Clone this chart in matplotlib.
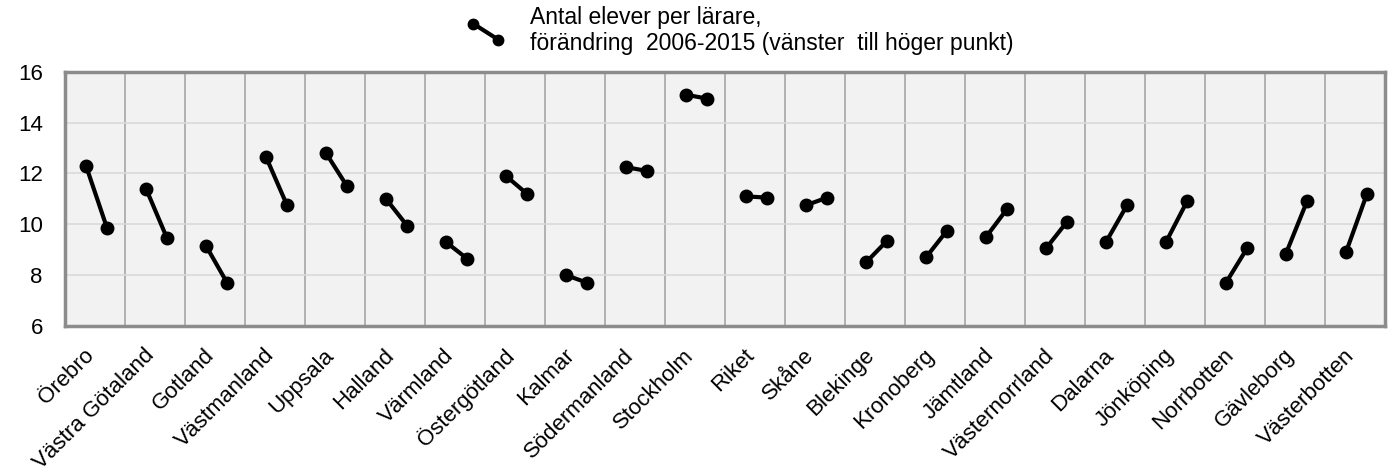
import numpy as np
import matplotlib.pyplot as plt
from matplotlib.lines import Line2D
from matplotlib.legend_handler import HandlerLine2D
from matplotlib.transforms import ScaledTranslation

plt.rcParams['font.family'] = ['Liberation Sans', 'DejaVu Sans']

# Antal elever per lärare, 2006 (vänster) och 2015 (höger)
regions = ["Örebro", "Västra Götaland", "Gotland", "Västmanland", "Uppsala",
           "Halland", "Värmland", "Östergötland", "Kalmar", "Södermanland",
           "Stockholm", "Riket", "Skåne", "Blekinge", "Kronoberg", "Jämtland",
           "Västernorrland", "Dalarna", "Jönköping", "Norrbotten", "Gävleborg",
           "Västerbotten"]
v2006 = [12.3, 11.4, 9.15, 12.65, 12.8, 11.0, 9.3, 11.9, 8.0, 12.25, 15.1,
         11.1, 10.75, 8.5, 8.7, 9.5, 9.05, 9.3, 9.3, 7.7, 8.85, 8.9]
v2015 = [9.85, 9.45, 7.7, 10.75, 11.5, 9.95, 8.65, 11.2, 7.7, 12.1, 14.95,
         11.05, 11.05, 9.35, 9.75, 10.6, 10.1, 10.75, 10.9, 9.05, 10.9, 11.2]
yticks = [6, 8, 10, 12, 14, 16]
legend_text = "Antal elever per lärare,\nförändring  2006-2015 (vänster  till höger punkt)"


class DiagHandler(HandlerLine2D):
    # legendsymbol som en snedställd linje med prickar i ändarna
    def create_artists(self, legend, orig_handle, xdescent, ydescent,
                       width, height, fontsize, trans):
        line = Line2D([0, width], [height * 1.0, height * 0.0],
                      color='black', lw=3, marker='o', markersize=7.5)
        line.set_transform(trans)
        return [line]


fig = plt.figure(figsize=(13.96, 4.73), dpi=100)
ax = fig.add_axes([0.0466, 0.311, 0.9455, 0.537])
ax.set_facecolor('#f2f2f2')

x = np.arange(len(regions))
for i in range(len(regions)):
    ax.plot([x[i] - 0.15, x[i] + 0.2], [v2006[i], v2015[i]], color='black',
            lw=3, marker='o', markersize=9, solid_capstyle='round', zorder=3)

ax.set_xlim(-0.5, len(regions) - 0.5)
ax.set_ylim(6, 16)
ax.set_yticks(yticks)
ax.set_xticks(x)
ax.set_xticklabels(regions, rotation=45, ha='right', va='center',
                   rotation_mode='anchor', fontsize=16)
ax.set_xticks(np.arange(0.5, len(regions) - 1, 1), minor=True)
ax.tick_params(axis='both', which='both', length=0)
ax.tick_params(axis='y', labelsize=16, pad=16)
ax.tick_params(axis='x', pad=19)
shift = ScaledTranslation(-0.04, 0, fig.dpi_scale_trans)
for lab in ax.get_xticklabels():
    lab.set_transform(lab.get_transform() + shift)

ax.grid(axis='y', color='#d9d9d9', lw=1.2)
ax.grid(axis='x', which='minor', color='#a6a6a6', lw=1.2)
ax.set_axisbelow(True)
for s in ax.spines.values():
    s.set_color('#8c8c8c')
    s.set_linewidth(2.5)

handle = Line2D([], [], color='black')
fig.legend([handle], [legend_text], handler_map={Line2D: DiagHandler()},
           loc='center left', bbox_to_anchor=(0.324, 0.9354), frameon=False,
           fontsize=16.5, handlelength=1.1, handletextpad=1.4,
           labelspacing=0.2)
plt.setp(fig.legends[0].get_texts(), linespacing=1.15)

fig.savefig('out.png', dpi=100)
